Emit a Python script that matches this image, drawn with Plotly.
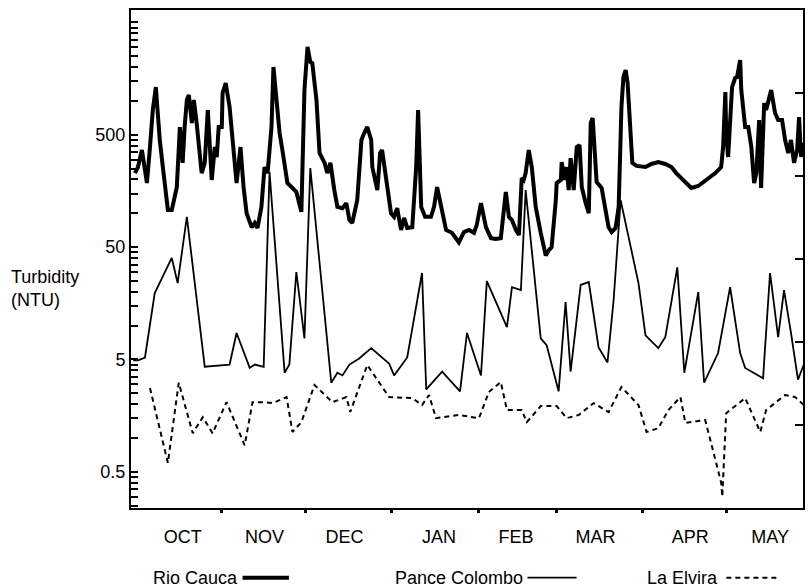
import pandas as pd
import plotly.graph_objects as go

# ---------------- data (days since 1 Oct, turbidity in NTU) ----------------
SEASON_START = "1989-10-01"

rio_days = [
    0.1, 1.2, 2.6, 4.4, 5.5, 6.5, 7.6, 9.0, 10.1, 11.9,
    13.3, 15.1, 16.2, 17.2, 17.9, 18.7, 19.4, 20.5, 21.2, 22.2,
    24.0, 25.1, 26.2, 27.6, 28.7, 29.4, 30.1, 31.2, 31.5, 32.6,
    34.0, 35.8, 36.5, 37.9, 39.0, 40.1, 41.9, 43.0, 44.0, 45.4,
    46.5, 47.6, 49.0, 49.7, 50.8, 51.9, 52.9, 54.7, 56.5, 57.9,
    59.7, 60.8, 61.9, 62.9, 63.6, 65.1, 66.2, 68.0, 69.0, 70.1,
    71.5, 72.6, 74.4, 75.8, 76.9, 77.9, 79.7, 81.2, 82.2, 83.3,
    84.7, 85.1, 86.9, 87.9, 88.6, 90.1, 91.8, 92.9, 94.0, 95.4,
    96.5, 97.6, 99.4, 100.8, 101.5, 102.6, 104.0, 106.1, 107.2, 108.3,
    109.7, 111.5, 113.6, 116.1, 117.9, 119.7, 121.5, 122.5, 124.0, 125.8,
    127.6, 129.3, 131.1, 132.2, 132.9, 134.0, 135.1, 136.5, 137.6, 138.6,
    139.3, 140.0, 141.1, 142.2, 143.6, 145.4, 147.2, 148.3, 149.3, 150.8,
    151.1, 152.6, 152.9, 154.0, 154.7, 155.4, 156.1, 157.2, 158.3, 159.3,
    160.1, 161.5, 162.6, 163.3, 164.0, 164.7, 165.4, 167.2, 168.6, 169.7,
    170.8, 172.2, 173.3, 174.3, 175.0, 175.8, 176.5, 177.5, 178.2, 179.7,
    182.9, 185.0, 187.5, 190.0, 192.2, 193.9, 197.2, 199.3, 201.8, 204.7,
    207.9, 210.0, 210.7, 211.5, 211.8, 212.5, 213.2, 213.9, 215.0, 215.7,
    216.8, 217.2, 218.6, 219.7, 220.8, 221.8, 222.6, 223.6, 224.3, 225.4,
    226.1, 227.2, 227.9, 229.3, 230.4, 231.8, 232.9, 234.0, 235.0, 236.1,
    237.2, 237.9, 238.6, 239.3,
]
rio_ntu = [
    228, 258, 366, 186, 389, 830, 1331, 449, 258, 107,
    107, 171, 586, 281, 586, 1021, 1130, 637, 1021, 637,
    228, 281, 830, 198, 389, 317, 586, 586, 1177, 1445,
    883, 317, 186, 389, 171, 100, 75, 82, 74, 114,
    258, 228, 586, 2006, 1021, 519, 366, 186, 168, 155,
    103, 1253, 3027, 2223, 2178, 1021, 344, 281, 228, 281,
    161, 114, 111, 123, 87, 82, 131, 449, 519, 586,
    449, 258, 161, 344, 366, 198, 100, 93, 111, 71,
    91, 74, 75, 258, 830, 114, 93, 93, 114, 171,
    114, 71, 67, 55, 68, 71, 67, 79, 123, 75,
    60, 59, 60, 100, 155, 93, 87, 71, 64, 206,
    198, 228, 366, 258, 114, 67, 42, 47, 50, 131,
    186, 198, 286, 198, 258, 161, 310, 161, 389, 405,
    171, 123, 100, 637, 705, 366, 190, 168, 100, 75,
    68, 74, 114, 883, 1633, 1888, 1445, 519, 281, 264,
    258, 275, 286, 275, 258, 228, 190, 168, 175, 198,
    228, 258, 389, 1202, 519, 317, 586, 1331, 1601, 1633,
    2317, 1253, 586, 586, 389, 186, 228, 676, 168, 959,
    830, 1084, 1253, 781, 676, 676, 449, 344, 449, 281,
    366, 719, 317, 423,
]

pance_days = [
    -0.5, 1.2, 3.7, 7.2, 13.3, 15.4, 18.7, 25.1, 34.0, 36.5,
    41.2, 43.0, 46.2, 48.3, 53.7, 55.4, 57.9, 60.8, 62.9, 70.4,
    72.6, 74.4, 76.9, 80.4, 84.7, 91.1, 92.9, 97.6, 102.9, 104.4,
    110.1, 116.5, 119.0, 124.0, 126.1, 133.3, 135.1, 138.3, 140.0, 145.4,
    147.5, 151.8, 154.3, 156.1, 159.7, 162.6, 166.1, 169.3, 171.5, 174.0,
    180.4, 182.9, 187.5, 190.0, 194.3, 196.8, 201.8, 203.9, 208.9, 213.2,
    216.8, 218.6, 225.0, 227.5, 230.4, 232.5, 235.0, 237.5, 239.6,
]
pance_ntu = [
    4.9, 4.9, 5.2, 19.5, 40, 23.9, 93, 4.3, 4.5, 8.6,
    4.2, 4.5, 4.3, 233, 3.8, 4.5, 30, 7.7, 253, 3.1,
    3.8, 3.6, 4.5, 5.1, 6.3, 4.6, 3.6, 5.2, 29.4, 2.7,
    3.9, 2.6, 8.6, 3.6, 24.9, 9.7, 22.0, 20.7, 161, 7.7,
    6.7, 2.6, 16.2, 3.9, 23.0, 24.4, 6.4, 4.7, 16.9, 131,
    23.9, 8.2, 6.3, 7.9, 33, 3.8, 19.9, 3.1, 5.7, 22.0,
    5.7, 4.2, 3.4, 29.4, 7.9, 20.7, 8.6, 3.3, 4.5,
]

elvira_days = [
    5.5, 11.9, 15.8, 20.8, 24.4, 27.9, 32.9, 39.4, 42.2, 45.8,
    49.4, 54.4, 56.5, 59.7, 64.4, 70.8, 75.8, 77.2, 83.3, 91.1,
    99.4, 102.9, 105.4, 107.9, 116.1, 123.3, 126.8, 131.1, 133.3, 138.6,
    140.4, 145.4, 151.1, 154.7, 159.0, 164.3, 169.7, 174.3, 180.4, 183.3,
    187.5, 191.1, 195.4, 197.2, 204.3, 210.0, 210.4, 211.8, 218.6, 224.0,
    226.1, 232.9, 236.5, 239.6,
]
elvira_ntu = [
    2.78, 0.60, 3.1, 1.10, 1.53, 1.10, 2.08, 0.86, 2.08, 2.08,
    2.04, 2.31, 1.13, 1.38, 2.96, 2.08, 2.31, 1.70, 4.46, 2.31,
    2.26, 1.96, 2.41, 1.50, 1.60, 1.50, 2.56, 3.14, 1.77, 1.77,
    1.38, 1.92, 1.92, 1.50, 1.60, 2.04, 1.70, 2.84, 1.96, 1.13,
    1.22, 1.77, 2.31, 1.36, 1.44, 0.40, 0.30, 1.66, 2.26, 1.13,
    1.77, 2.41, 2.31, 1.96,
]

month_labels = ["OCT", "NOV", "DEC", "JAN", "FEB", "MAR", "APR", "MAY"]
month_label_days = [17.2, 46.5, 75.1, 109.0, 136.5, 165.0, 198.9, 227.5]
month_start_days = [31, 61, 92, 123, 151, 182, 212]
y_label_vals = [0.5, 5, 50, 500]
y_label_text = ["0.5", "5", "50", "500"]
x_range_days = [-1.3, 239.3]
y_range_log = [-0.624, 3.810]

series_names = ["Rio Cauca", "Pance Colombo", "La Elvira"]

# ---------------- helpers ----------------
base = pd.Timestamp(SEASON_START)


def to_dates(days):
    return [base + pd.Timedelta(days=d) for d in days]


FONT = "Liberation Sans, Arial, Helvetica, sans-serif"
FS = 18

# y ticks: decade pattern 0.5*(1..10)*10^n
y_tick_vals = []
for b in [0.05, 0.5, 5, 50, 500]:
    for m in range(1, 11):
        v = round(b * m, 6)
        if 0.24 < v < 6400 and v not in y_tick_vals:
            y_tick_vals.append(v)
y_tick_text = [y_label_text[y_label_vals.index(v)] if v in y_label_vals else "" for v in y_tick_vals]

RIO_LINE = dict(color="black", width=4)
PANCE_LINE = dict(color="black", width=1.8)
ELVIRA_LINE = dict(color="black", width=2, dash="5px,4px")

fig = go.Figure()

fig.add_trace(go.Scatter(x=to_dates(rio_days), y=rio_ntu, mode="lines",
                         name=series_names[0], line=RIO_LINE, showlegend=False))
fig.add_trace(go.Scatter(x=to_dates(pance_days), y=pance_ntu, mode="lines",
                         name=series_names[1], line=PANCE_LINE, showlegend=False))
fig.add_trace(go.Scatter(x=to_dates(elvira_days), y=elvira_ntu, mode="lines",
                         name=series_names[2], line=ELVIRA_LINE, showlegend=False))
# invisible trace to carry the right-hand tick axis
fig.add_trace(go.Scatter(x=to_dates([0]), y=[0], yaxis="y2", mode="markers",
                         marker=dict(opacity=0), showlegend=False, hoverinfo="skip"))

fig.update_layout(
    width=808, height=587,
    margin=dict(l=131, r=3, t=10, b=79),
    paper_bgcolor="white", plot_bgcolor="white",
    font=dict(family=FONT, size=FS, color="black"),
    xaxis=dict(
        type="date",
        range=to_dates(x_range_days),
        tickmode="array",
        tickvals=to_dates(month_label_days),
        ticktext=month_labels,
        ticks="",
        ticklabelstandoff=11,
        showgrid=False, zeroline=False,
        showline=True, linecolor="black", linewidth=2, mirror=True,
        tickfont=dict(family=FONT, size=FS),
        minor=dict(tickmode="array", tickvals=to_dates(month_start_days),
                   ticks="outside", ticklen=3, tickwidth=3, tickcolor="black",
                   showgrid=False),
    ),
    yaxis=dict(
        type="log",
        range=y_range_log,
        tickmode="array",
        tickvals=y_tick_vals,
        ticktext=y_tick_text,
        ticks="inside", ticklen=7, tickwidth=1.5, tickcolor="black",
        showgrid=False, zeroline=False,
        showline=True, linecolor="black", linewidth=2, mirror=True,
        tickfont=dict(family=FONT, size=FS),
        ticklabelstandoff=0,
    ),
    yaxis2=dict(
        overlaying="y", side="right", range=[0, 6],
        tickmode="array", tickvals=[1, 2, 3, 4, 5],
        ticks="inside", ticklen=8, tickwidth=1.5, tickcolor="black",
        showticklabels=False, showgrid=False, zeroline=False, showline=False,
    ),
    showlegend=False,
)

# y-axis title
fig.add_annotation(text="Turbidity<br>(NTU)", xref="paper", yref="paper",
                   x=-0.181, y=0.44, xanchor="left", yanchor="middle",
                   align="left", showarrow=False, font=dict(family=FONT, size=FS))

# custom legend: label followed by a line sample
legend_items = [
    (series_names[0], 0.030, 0.166, 0.235, RIO_LINE),
    (series_names[1], 0.390, 0.590, 0.663, PANCE_LINE),
    (series_names[2], 0.765, 0.886, 0.966, ELVIRA_LINE),
]
for name, tx, x0, x1, ln in legend_items:
    fig.add_annotation(text=name, xref="paper", yref="paper", x=tx, y=-0.14,
                       xanchor="left", yanchor="middle", showarrow=False,
                       font=dict(family=FONT, size=FS))
    fig.add_shape(type="line", xref="paper", yref="paper", x0=x0, x1=x1,
                  y0=-0.14, y1=-0.14, line=ln)

fig.write_html(
    "out.html",
    config={"displayModeBar": False},
    post_script="document.body.style.margin='0';document.body.style.padding='0';",
)
